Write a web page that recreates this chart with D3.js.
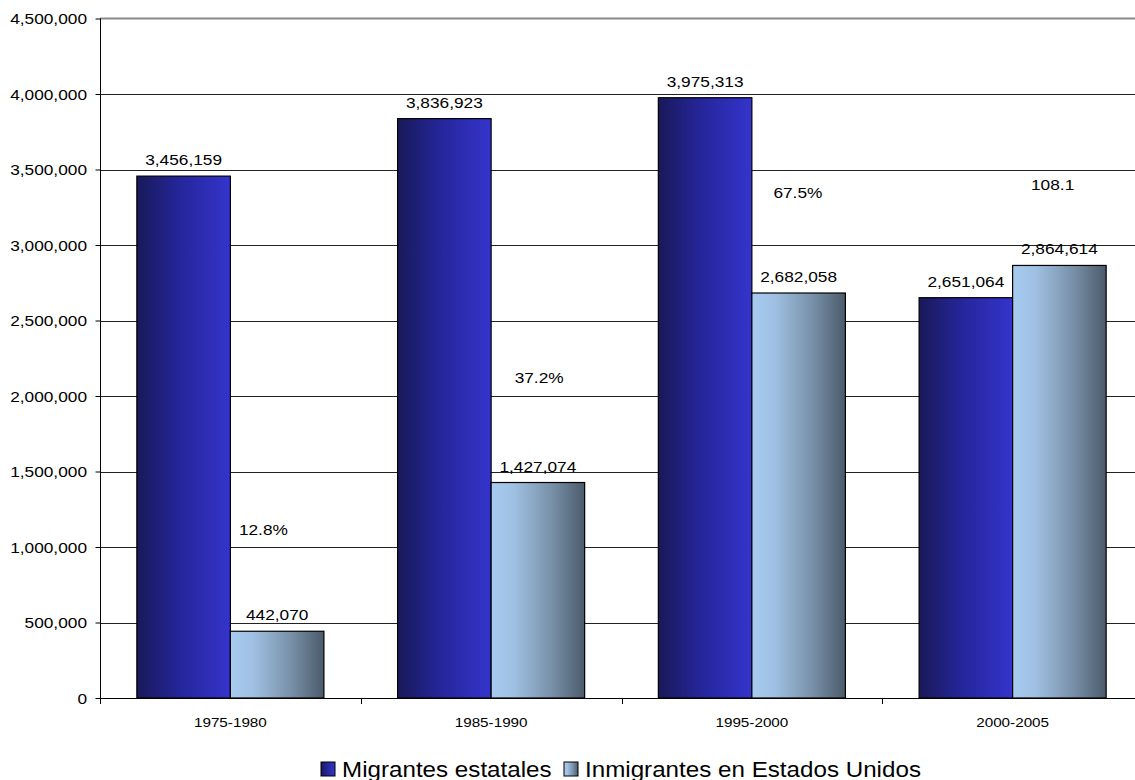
<!DOCTYPE html>
<html><head><meta charset="utf-8">
<script src="https://cdn.jsdelivr.net/npm/d3@7/dist/d3.min.js"></script>
<style>
html,body{margin:0;padding:0;background:#fff;overflow:hidden}
text{font-family:"Liberation Sans",Arial,sans-serif;fill:#000}
</style></head>
<body>
<svg id="chart" width="1135" height="780"></svg>
<script>
// ---- data ----
const categories = ["1975-1980", "1985-1990", "1995-2000", "2000-2005"];
const seriesNames = ["Migrantes estatales", "Inmigrantes en Estados Unidos"];
const migrantesEstatales = [3456159, 3836923, 3975313, 2651064];
const inmigrantesEEUU = [442070, 1427074, 2682058, 2864614];
const ratioLabels = ["12.8%", "37.2%", "67.5%", "108.1"];
const ratioLabelLevels = [1118000, 2124000, 3349000, 3401000]; // vertical anchor in axis units
const ratioLabelShift = [33, 48, 46, 40];
const yTicks = [0, 500000, 1000000, 1500000, 2000000, 2500000, 3000000, 3500000, 4000000, 4500000];

(function () {
const svg = d3.select("#chart");
const W = 1135;
const pLeft = 100, pTop = 18.5, pBottom = 698, pRight = 1143;
const SX = 1.13; // horizontal glyph stretch of original rendering
const fmt = d3.format(",");

const defs = svg.append("defs");
const g1 = defs.append("linearGradient").attr("id","gBlue").attr("x1","0").attr("x2","1").attr("y1","0").attr("y2","0");
g1.append("stop").attr("offset","0").attr("stop-color","#191959");
g1.append("stop").attr("offset","0.45").attr("stop-color","#25259a");
g1.append("stop").attr("offset","1").attr("stop-color","#3434cc");
const g2 = defs.append("linearGradient").attr("id","gLight").attr("x1","0").attr("x2","1").attr("y1","0").attr("y2","0");
g2.append("stop").attr("offset","0").attr("stop-color","#a7cbf1");
g2.append("stop").attr("offset","0.25").attr("stop-color","#9fc0e2");
g2.append("stop").attr("offset","0.65").attr("stop-color","#7890a8");
g2.append("stop").attr("offset","1").attr("stop-color","#4b5b6b");
const fills = ["url(#gBlue)", "url(#gLight)"];

const y = d3.scaleLinear().domain([0, 4500000]).range([pBottom, pTop]);
const x0 = d3.scaleBand().domain(categories).range([pLeft, pRight]).padding(0);
const x1 = d3.scaleBand().domain(seriesNames).range([0, x0.bandwidth()]).paddingInner(0).paddingOuter(0.394);

function txt(parent, x, yy, s, size, anchor) {
  return parent.append("text")
    .attr("transform", `translate(${x},${yy}) scale(${SX},1)`)
    .attr("text-anchor", anchor || "middle")
    .attr("font-size", size)
    .text(s);
}

// gridlines
svg.append("g").selectAll("line").data(yTicks.slice(1, -1)).join("line")
  .attr("x1", pLeft).attr("x2", W).attr("y1", d => Math.round(y(d)) + 0.5).attr("y2", d => Math.round(y(d)) + 0.5)
  .attr("stroke", "#222").attr("stroke-width", 1);
svg.append("line").attr("x1", pLeft).attr("x2", W).attr("y1", y(4500000)).attr("y2", y(4500000))
  .attr("stroke", "#8a8a8a").attr("stroke-width", 2);

// bars
const data = categories.map((c, i) => ({cat: c, vals: [migrantesEstatales[i], inmigrantesEEUU[i]]}));
const grp = svg.append("g").selectAll("g").data(data).join("g")
  .attr("transform", d => `translate(${x0(d.cat)},0)`);
grp.selectAll("rect").data(d => d.vals.map((v, k) => ({k, v}))).join("rect")
  .attr("x", d => x1(seriesNames[d.k]))
  .attr("width", x1.bandwidth())
  .attr("y", d => y(d.v))
  .attr("height", d => pBottom - y(d.v))
  .attr("fill", d => fills[d.k])
  .attr("stroke", "#000").attr("stroke-width", 1.2);

// value labels
data.forEach(d => {
  d.vals.forEach((v, k) => {
    txt(svg, x0(d.cat) + x1(seriesNames[k]) + x1.bandwidth() / 2, y(v) - 11, fmt(v), 15.3);
  });
});

// ratio labels
categories.forEach((c, i) => {
  txt(svg, x0(c) + x0.bandwidth() / 2 + ratioLabelShift[i], y(ratioLabelLevels[i]) + 5.5, ratioLabels[i], 15.3);
});

// y axis
const yAxis = d3.axisLeft(y).tickValues(yTicks).tickSize(5).tickFormat(d => fmt(d));
const ya = svg.append("g").attr("transform", `translate(${pLeft + 0.5},0)`).call(yAxis);
ya.select(".domain").attr("stroke", "#000").attr("d", `M0,${pTop}V${pBottom}`);
ya.selectAll(".tick line").attr("stroke", "#000");
ya.selectAll(".tick text").remove();
yTicks.forEach(t => txt(svg, 87, y(t) + 5.5, fmt(t), 15.3, "end"));

// x axis
svg.append("line").attr("x1", pLeft).attr("x2", W).attr("y1", pBottom + 0.5).attr("y2", pBottom + 0.5).attr("stroke", "#000");
const xa = svg.append("g");
categories.forEach(c => {
  xa.append("line").attr("x1", Math.round(x0(c)) + 0.5).attr("x2", Math.round(x0(c)) + 0.5)
    .attr("y1", pBottom).attr("y2", pBottom + 6).attr("stroke", "#000");
  txt(svg, x0(c) + x0.bandwidth() / 2, 727, c, 13.5);
});

// legend
const leg = svg.append("g");
const legItems = [{x: 321, name: seriesNames[0], k: 0}, {x: 564, name: seriesNames[1], k: 1}];
legItems.forEach(it => {
  leg.append("rect").attr("x", it.x).attr("y", 762).attr("width", 14).attr("height", 14)
    .attr("fill", fills[it.k]).attr("stroke", "#000").attr("stroke-width", 1);
  txt(leg, it.x + 21, 777, it.name, 21.4, "start");
});
})();
</script>
</body></html>
